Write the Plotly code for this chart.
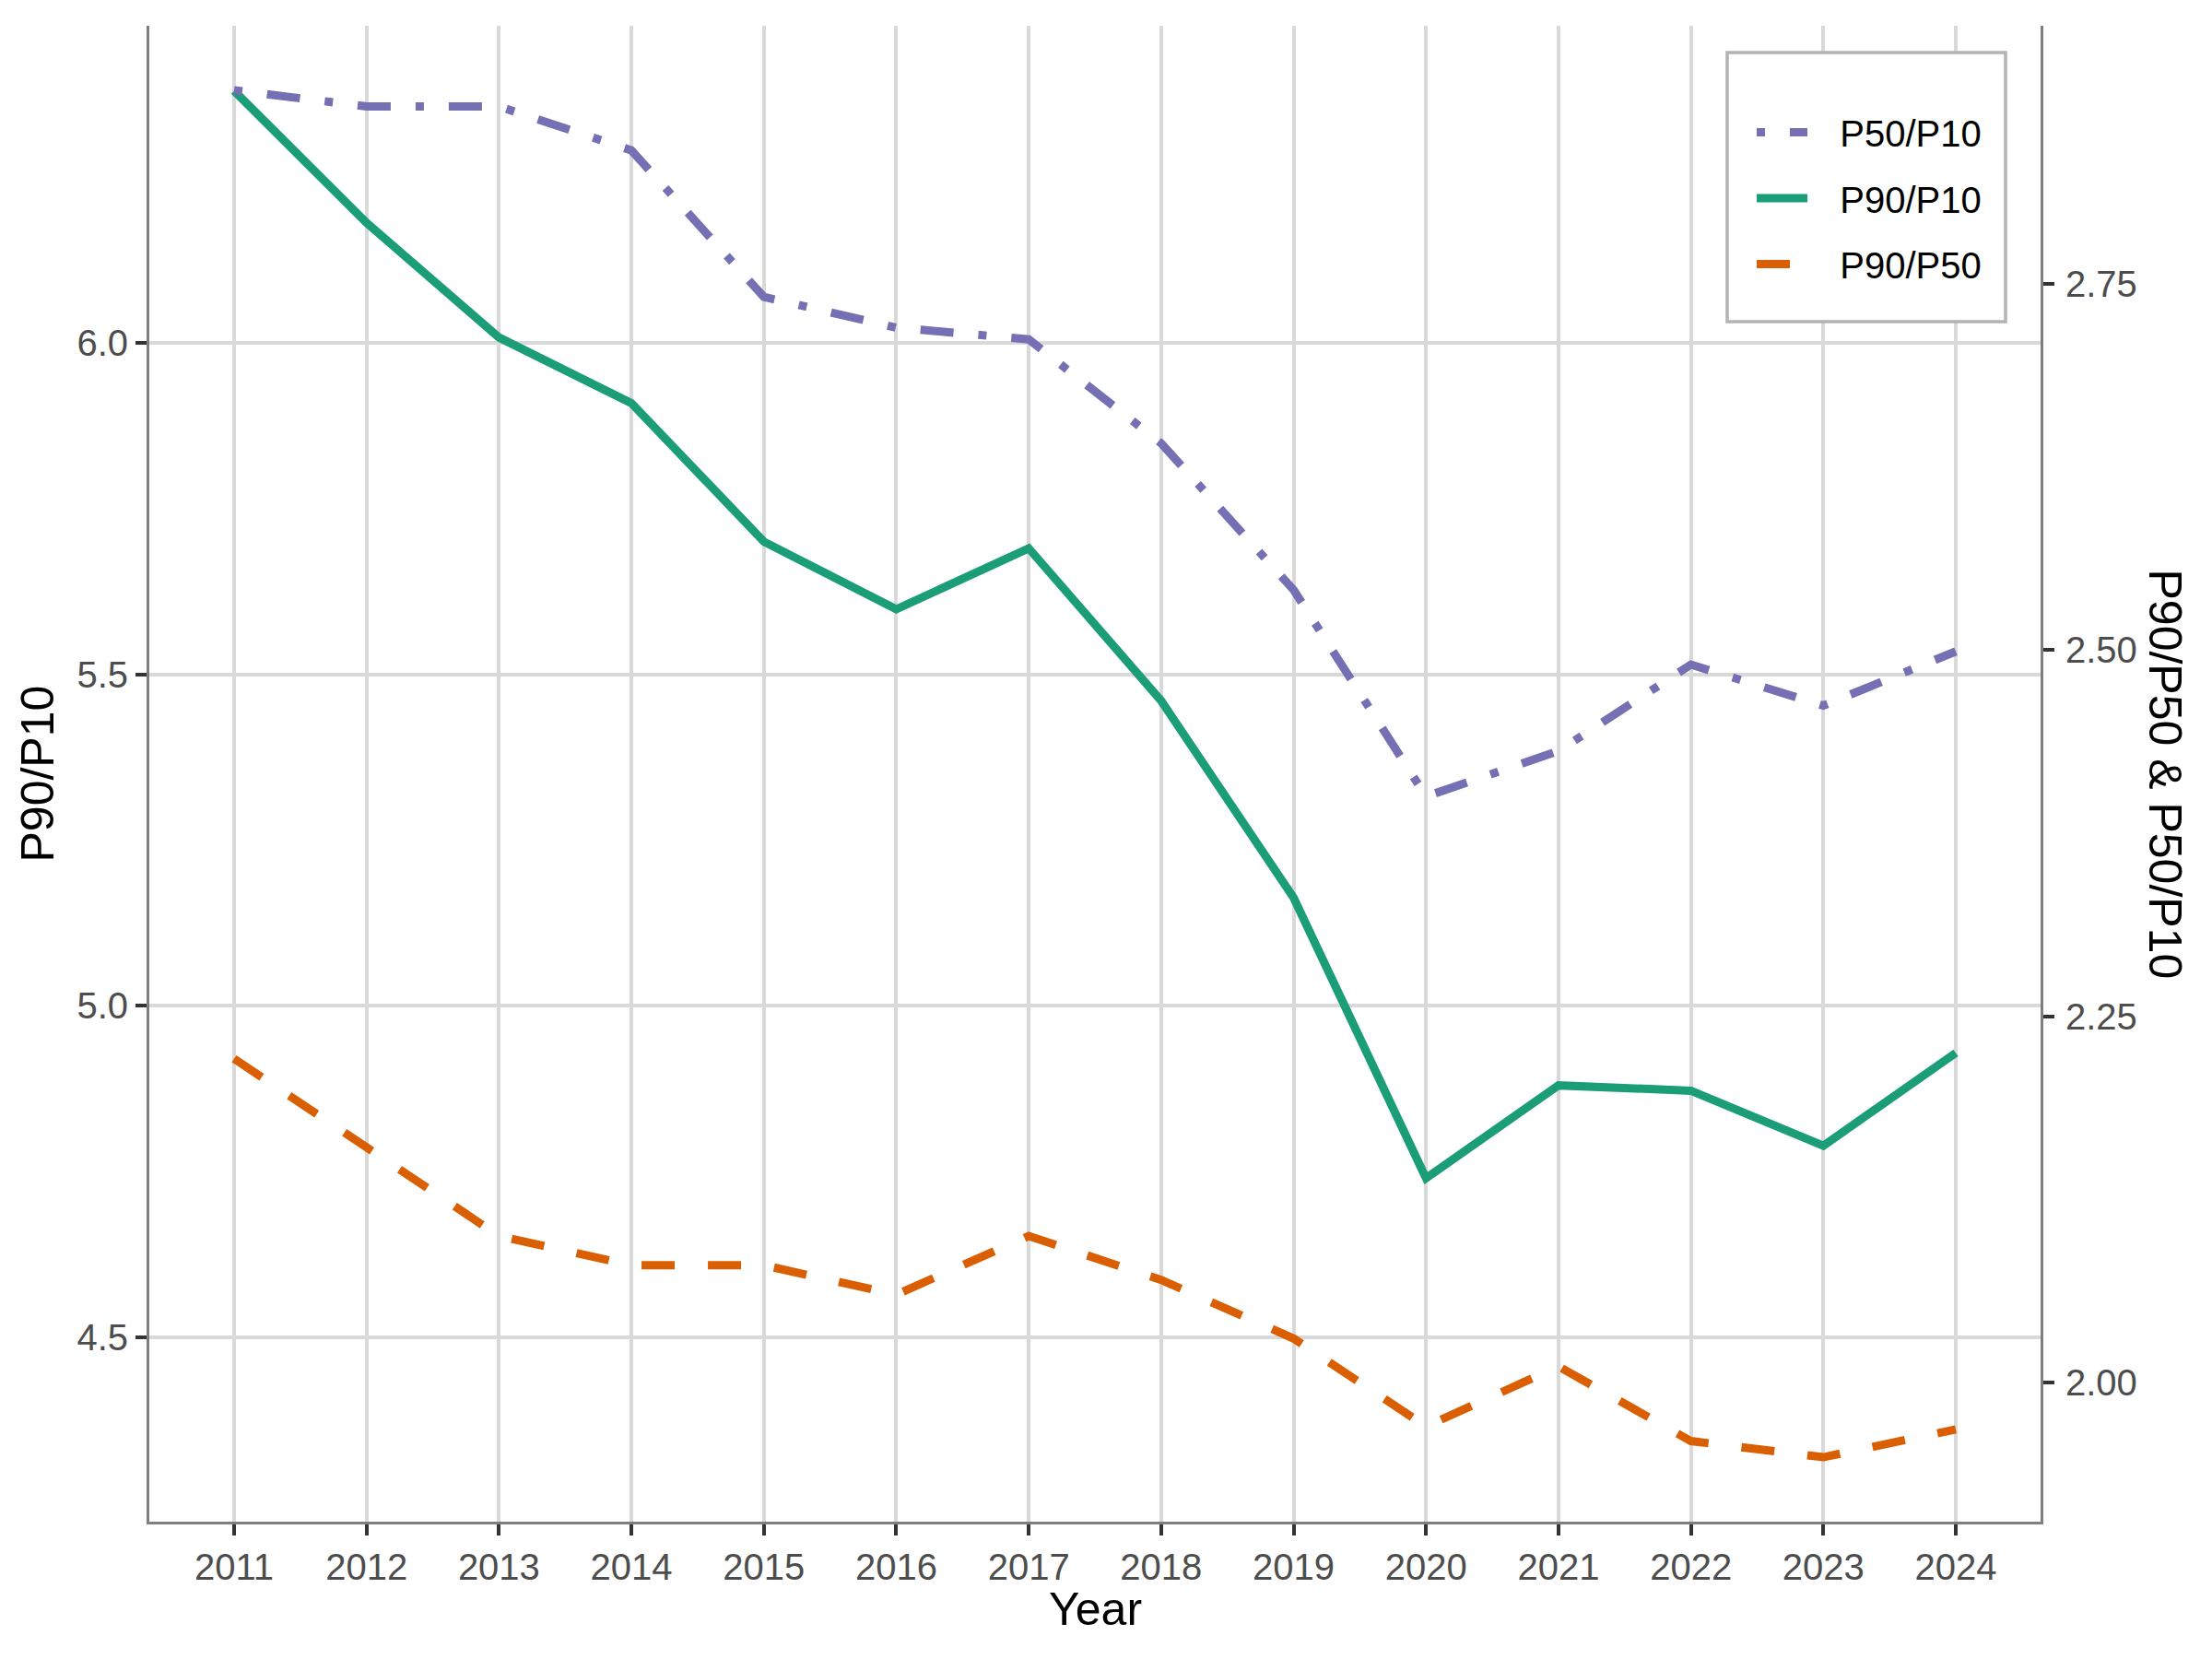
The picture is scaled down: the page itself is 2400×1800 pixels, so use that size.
import plotly.graph_objects as go

years = [2011, 2012, 2013, 2014, 2015, 2016, 2017, 2018, 2019, 2020, 2021, 2022, 2023, 2024]
p90_p10 = [6.380, 6.181, 6.008, 5.909, 5.700, 5.598, 5.690, 5.460, 5.163, 4.740, 4.880, 4.872, 4.789, 4.929]
p50_p10 = [2.882, 2.871, 2.871, 2.841, 2.741, 2.720, 2.712, 2.641, 2.541, 2.400, 2.431, 2.490, 2.462, 2.499]
p90_p50 = [2.221, 2.160, 2.100, 2.080, 2.080, 2.060, 2.100, 2.070, 2.030, 1.970, 2.011, 1.960, 1.949, 1.968]

left_ticks = [4.5, 5.0, 5.5, 6.0]
left_ticktext = ["4.5", "5.0", "5.5", "6.0"]
right_ticks = [2.00, 2.25, 2.50, 2.75]
right_ticktext = ["2.00", "2.25", "2.50", "2.75"]

# page body has an 8px default margin; shift the figure to compensate
OFF = 8
W, H = 2400 - OFF, 1800 - OFF
# plot-area edges in page pixels
L, R, T, B = 162, 2214, 28, 1651


def px(x):
    return (x - L) / (R - L)


def py(y):
    return (B - y) / (B - T)


FONT = "Liberation Sans, Arial, sans-serif"
LW = 9
PAD = "\u00a0\u00a0\u2009"

fig = go.Figure()
fig.add_trace(go.Scatter(x=years, y=p50_p10, name=PAD + "P50/P10", mode="lines", yaxis="y2",
                         legendgroup="a",
                         line=dict(color="#7570B3", width=LW, dash="9px,27px,36px,27px")))
fig.add_trace(go.Scatter(x=years, y=p90_p10, name=PAD + "P90/P10", mode="lines", yaxis="y",
                         legendgroup="b",
                         line=dict(color="#1B9E77", width=LW)))
fig.add_trace(go.Scatter(x=years, y=p90_p50, name=PAD + "P90/P50", mode="lines", yaxis="y2",
                         legendgroup="c",
                         line=dict(color="#D95F02", width=LW, dash="36px,36px")))

tickfont = dict(family=FONT, size=40, color="#4D4D4D")
common = dict(showline=True, linecolor="#7F7F7F", linewidth=3, ticks="outside",
              tickcolor="#333333", tickwidth=3.5, ticklen=12, zeroline=False,
              tickfont=tickfont)

fig.update_layout(
    width=W, height=H,
    margin=dict(l=L - OFF, r=W - (R - OFF), t=T - OFF, b=H - (B - OFF), autoexpand=False),
    paper_bgcolor="white", plot_bgcolor="white",
    font=dict(family=FONT, color="black"),
    xaxis=dict(range=[2010.36, 2024.64], tickvals=years, ticktext=[str(y) for y in years],
               showgrid=True, gridcolor="#D9D9D9", gridwidth=3.5, **common),
    yaxis=dict(range=[4.222, 6.478], tickvals=left_ticks, ticktext=left_ticktext,
               showgrid=True, gridcolor="#D9D9D9", gridwidth=3.5, **common),
    yaxis2=dict(range=[1.905, 2.926], tickvals=right_ticks, ticktext=right_ticktext,
                overlaying="y", side="right", showgrid=False, ticklabelstandoff=4, **common),
    showlegend=True,
    legend=dict(x=px(1901), y=py(111), xanchor="left", yanchor="top",
                bgcolor="rgba(0,0,0,0)", borderwidth=0, itemwidth=55,
                font=dict(family=FONT, size=40, color="black"),
                traceorder="grouped", tracegroupgap=16.5),
    shapes=[
        dict(type="rect", xref="paper", yref="paper", layer="above",
             x0=px(1874), x1=px(2176), y0=py(349), y1=py(57),
             line=dict(color="#B3B3B3", width=3.5), fillcolor="white"),
    ],
    annotations=[
        dict(text="Year", xref="paper", yref="paper", x=0.5, y=py(1746),
             xanchor="center", yanchor="middle", showarrow=False,
             font=dict(family=FONT, size=50, color="black")),
        dict(text="P90/P10", xref="paper", yref="paper", x=px(40), y=0.5,
             xanchor="center", yanchor="middle", showarrow=False, textangle=-90,
             font=dict(family=FONT, size=50, color="black")),
        dict(text="P90/P50 &amp; P50/P10", xref="paper", yref="paper", x=px(2349), y=0.5,
             xanchor="center", yanchor="middle", showarrow=False, textangle=90,
             font=dict(family=FONT, size=50, color="black")),
    ],
)

fig.write_html("out.html")
